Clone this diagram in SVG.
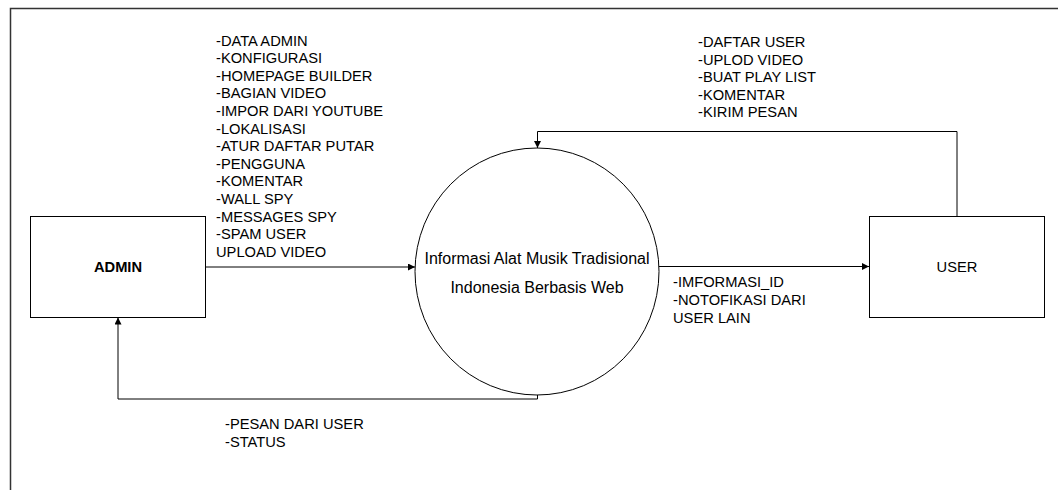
<svg xmlns="http://www.w3.org/2000/svg" width="1058" height="490" viewBox="0 0 1058 490">
<defs>
<marker id="arr" markerWidth="8" markerHeight="8" refX="7" refY="3.5" orient="auto" markerUnits="userSpaceOnUse">
<path d="M0,0 L7,3.5 L0,7 Z" fill="#000"/>
</marker>
<style>
.box{fill:#fff;stroke:#000;stroke-width:1}
.ln{fill:none;stroke:#000;stroke-width:1;marker-end:url(#arr)}
.t{font-family:"Liberation Sans",Arial,sans-serif;font-size:14.7px;fill:#000}
.c{font-family:"Liberation Sans",Arial,sans-serif;font-size:16px;fill:#000;text-anchor:middle}
</style>
</defs>
<rect width="1058" height="490" fill="#fff"/>
<path d="M10.5,490 V8.5 H1058" fill="none" stroke="#333" stroke-width="1.5"/>
<g id="connectors">
<path class="ln" d="M205,267 H415"/>
<path class="ln" d="M659,266.5 H869"/>
<path class="ln" d="M957,216 V131.5 H537.5 V148"/>
<path class="ln" d="M537.5,395 V399 H118 V317.5"/>
</g>
<g id="admin">
<rect class="box" x="30.5" y="216.5" width="175" height="101"/>
<text class="t" x="118" y="272.3" text-anchor="middle" font-weight="bold">ADMIN</text>
</g>
<g id="user">
<rect class="box" x="869.5" y="216.5" width="175" height="101"/>
<text class="t" x="957" y="272.3" text-anchor="middle">USER</text>
</g>
<g id="process">
<ellipse class="box" cx="537" cy="271.5" rx="122" ry="123.5"/>
<text class="c" x="537" y="263.7">Informasi Alat Musik Tradisional</text>
<text class="c" x="537" y="292.7">Indonesia Berbasis Web</text>
</g>
<g id="labels">
<text class="t" x="216" y="45.7">
<tspan x="216" y="45.7">-DATA ADMIN</tspan>
<tspan x="216" y="63.3">-KONFIGURASI</tspan>
<tspan x="216" y="80.9">-HOMEPAGE BUILDER</tspan>
<tspan x="216" y="98.4">-BAGIAN VIDEO</tspan>
<tspan x="216" y="116">-IMPOR DARI YOUTUBE</tspan>
<tspan x="216" y="133.6">-LOKALISASI</tspan>
<tspan x="216" y="151.2">-ATUR DAFTAR PUTAR</tspan>
<tspan x="216" y="168.8">-PENGGUNA</tspan>
<tspan x="216" y="186.3">-KOMENTAR</tspan>
<tspan x="216" y="203.9">-WALL SPY</tspan>
<tspan x="216" y="221.5">-MESSAGES SPY</tspan>
<tspan x="216" y="239.1">-SPAM USER</tspan>
<tspan x="216" y="256.7">UPLOAD VIDEO</tspan>
</text>
<text class="t">
<tspan x="698" y="47.3">-DAFTAR USER</tspan>
<tspan x="698" y="64.8">-UPLOD VIDEO</tspan>
<tspan x="698" y="82.3">-BUAT PLAY LIST</tspan>
<tspan x="698" y="99.8">-KOMENTAR</tspan>
<tspan x="698" y="117.3">-KIRIM PESAN</tspan>
</text>
<text class="t">
<tspan x="673" y="287.3">-IMFORMASI_ID</tspan>
<tspan x="673" y="305.3">-NOTOFIKASI DARI</tspan>
<tspan x="673" y="323.3">USER LAIN</tspan>
</text>
<text class="t">
<tspan x="225" y="429.3">-PESAN DARI USER</tspan>
<tspan x="225" y="446.7">-STATUS</tspan>
</text>
</g>
</svg>
